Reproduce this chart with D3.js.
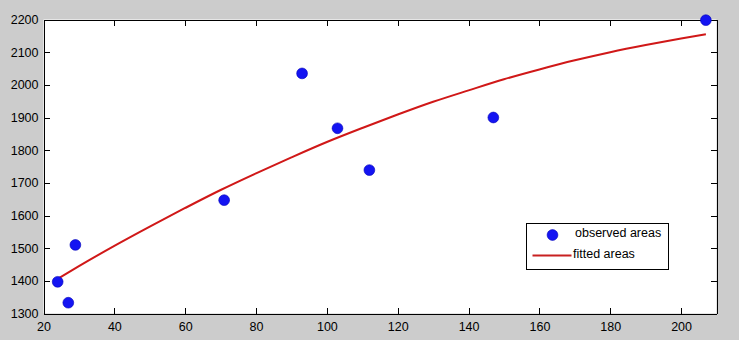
<!DOCTYPE html>
<html>
<head>
<meta charset="utf-8">
<script src="https://cdn.jsdelivr.net/npm/d3@7"></script>
<style>
  html, body { margin: 0; padding: 0; background: #cccccc; }
  svg { display: block; }
  .axis text { font-family: "Liberation Sans", Arial, sans-serif; font-size: 12.5px; fill: #000; }
  .axis path, .axis line { stroke: #000; shape-rendering: crispEdges; }
  .legend text { font-family: "Liberation Sans", Arial, sans-serif; font-size: 12.5px; fill: #000; }
</style>
</head>
<body>
<div id="chart"></div>
<script>
const obsX = [24, 27, 29, 71, 93, 103, 112, 147, 207];
const obsY = [1397, 1333, 1510, 1647, 2035, 1867, 1739, 1900, 2198];

// fitted curve, sampled from the figure
const fitX = [24, 30, 40, 50, 60, 70, 80, 90, 100, 110, 120, 130, 140, 150, 160, 170, 180, 190, 200, 207];
const fitY = [1406, 1445, 1507, 1566, 1623, 1678, 1729, 1778, 1825, 1868, 1909, 1948, 1983, 2017, 2047, 2075, 2100, 2122, 2142, 2155];

const xTicks = [20, 40, 60, 80, 100, 120, 140, 160, 180, 200];
const yTicks = [1300, 1400, 1500, 1600, 1700, 1800, 1900, 2000, 2100, 2200];

const legendLabels = ['observed areas', 'fitted areas'];

const W = 739, H = 340;
const margin = { top: 19, right: 23, bottom: 27, left: 43 };
const width = W - margin.left - margin.right;
const height = H - margin.top - margin.bottom;

const svg = d3.select('#chart').append('svg')
  .attr('width', W)
  .attr('height', H);

svg.append('rect')
  .attr('width', W).attr('height', H)
  .attr('fill', '#cccccc');

const g = svg.append('g')
  .attr('transform', `translate(${margin.left + 0.5}, ${margin.top + 0.5})`);

const x = d3.scaleLinear().domain([20, 210]).range([0, width]);
const y = d3.scaleLinear().domain([1300, 2200]).range([height, 0]);

// plot area
g.append('rect')
  .attr('width', width).attr('height', height)
  .attr('fill', '#ffffff');

// axes, ticks pointing inward (MATLAB style)
g.append('g')
  .attr('class', 'axis')
  .attr('transform', `translate(0, ${height})`)
  .call(d3.axisBottom(x).tickValues(xTicks).tickFormat(d3.format('d'))
    .tickSizeInner(-6).tickSizeOuter(0).tickPadding(9));

g.append('g')
  .attr('class', 'axis')
  .call(d3.axisLeft(y).tickValues(yTicks).tickFormat(d3.format('d'))
    .tickSizeInner(-6).tickSizeOuter(0).tickPadding(5));

g.append('g')
  .attr('class', 'axis')
  .call(d3.axisTop(x).tickValues(xTicks).tickSizeInner(-6).tickSizeOuter(0).tickFormat(''));

g.append('g')
  .attr('class', 'axis')
  .attr('transform', `translate(${width}, 0)`)
  .call(d3.axisRight(y).tickValues(yTicks).tickSizeInner(-6).tickSizeOuter(0).tickFormat(''));

// fitted line
const fitData = fitX.map((d, i) => ({ x: d, y: fitY[i] }));
g.append('path')
  .datum(fitData)
  .attr('fill', 'none')
  .attr('stroke', '#d01818')
  .attr('stroke-width', 2)
  .attr('d', d3.line().x(d => x(d.x)).y(d => y(d.y)).curve(d3.curveMonotoneX));

// observed points
const obsData = obsX.map((d, i) => ({ x: d, y: obsY[i] }));
g.selectAll('.dot')
  .data(obsData)
  .enter().append('circle')
  .attr('class', 'dot')
  .attr('cx', d => x(d.x))
  .attr('cy', d => y(d.y))
  .attr('r', 5.4)
  .attr('fill', '#1414f2')
  .attr('stroke', '#0000b8')
  .attr('stroke-width', 0.6);

// legend
const legend = svg.append('g')
  .attr('class', 'legend')
  .attr('transform', 'translate(526.5, 223.5)');

legend.append('rect')
  .attr('width', 142).attr('height', 46)
  .attr('fill', '#ffffff')
  .attr('stroke', '#000')
  .style('shape-rendering', 'crispEdges');

legend.append('circle')
  .attr('cx', 26).attr('cy', 11.5)
  .attr('r', 5.4)
  .attr('fill', '#1414f2')
  .attr('stroke', '#0000b8')
  .attr('stroke-width', 0.6);

legend.append('line')
  .attr('x1', 6).attr('x2', 45)
  .attr('y1', 32).attr('y2', 32)
  .attr('stroke', '#c82020')
  .attr('stroke-width', 2);

legend.selectAll('.label')
  .data(legendLabels)
  .enter().append('text')
  .attr('class', 'label')
  .attr('x', (d, i) => i === 0 ? 48.5 : 46.5)
  .attr('y', (d, i) => i === 0 ? 13.5 : 34)
  .text(d => d);
</script>
</body>
</html>
